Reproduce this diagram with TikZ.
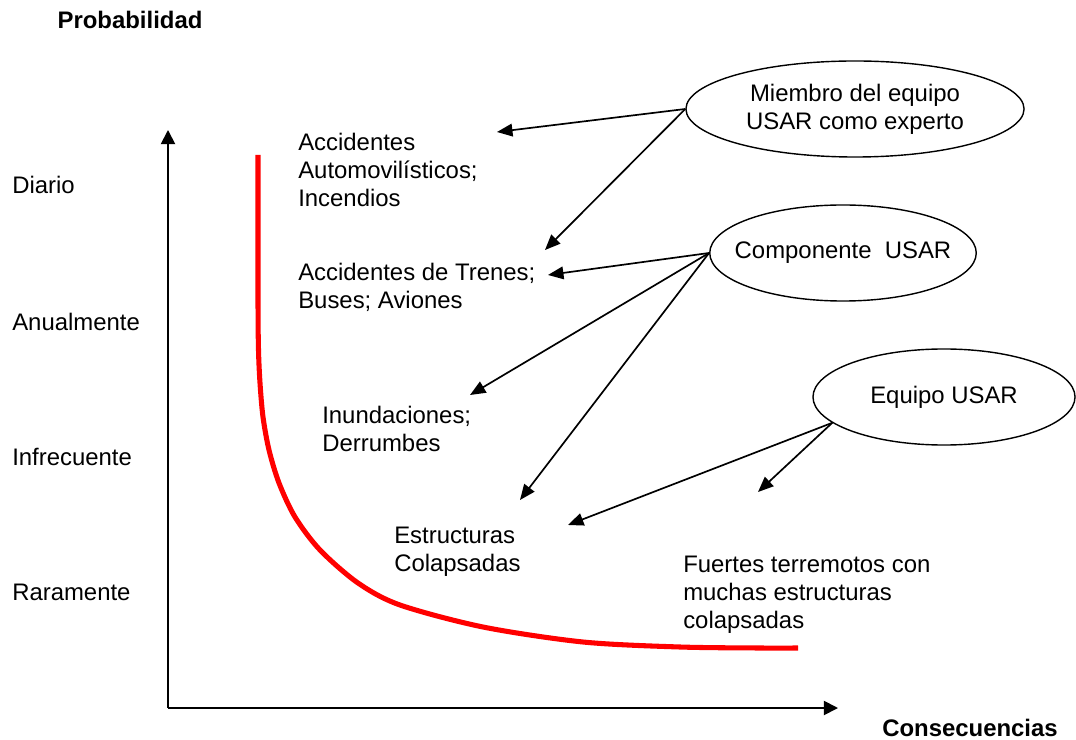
\documentclass[tikz,border=0pt]{standalone}
\usepackage{fontspec}
\setmainfont{Liberation Sans}
\usepackage{tikz}
\usetikzlibrary{arrows.meta,shapes.geometric}

\begin{document}
\begin{tikzpicture}[x=0.025cm,y=-0.025cm,
  every node/.style={font=\fontsize{17}{20}\selectfont, inner sep=0pt},
  txt/.style={anchor=west, align=left},
  titulo/.style={font=\fontsize{17}{20}\selectfont\bfseries},
  rol/.style={draw, ellipse, line width=1pt, align=center, minimum height=2.4cm},
  flecha/.style={-{Triangle[length=11pt,width=9pt]}, line width=1.2pt},
  eje/.style={-{Triangle[length=10pt,width=10pt]}, line width=1.3pt}]
\useasboundingbox (0,0) rectangle (1076,740);

% ejes
\coordinate (origen) at (168,708);
\coordinate (ytope) at (168,130);
\coordinate (xfin) at (838,708);
\draw[eje] (origen) -- (ytope);
\draw[eje] (origen) -- (xfin);
\node[titulo] (prob) at (130,20) {Probabilidad};
\node[titulo] (cons) at (970,728) {Consecuencias};

\node[txt] (diario) at (12,185) {Diario};
\node[txt] (anual) at (12,322) {Anualmente};
\node[txt] (infrec) at (12,457) {Infrecuente};
\node[txt] (raro) at (12,592) {Raramente};

% curva
\draw[red, line width=3.6pt] plot[smooth, tension=0.5] coordinates {
  (258,155) (258,300) (258.5,350) (260,383) (263,417) (269,450) (279,483)
  (295,517) (320,550) (358,583) (400,605) (483,627) (583,642) (680,647)
  (760,648) (798,648)};

% eventos
\node[txt] (auto) at (298,170) {Accidentes\\Automovilísticos;\\Incendios};
\node[txt] (trenes) at (298,287) {Accidentes de Trenes;\\Buses; Aviones};
\node[txt] (inund) at (322,429) {Inundaciones;\\Derrumbes};
\node[txt] (estruc) at (394,552) {Estructuras\\Colapsadas};
\node[txt] (terrem) at (683,595) {Fuertes terremotos con\\muchas estructuras\\colapsadas};

% elipses
\node[rol, minimum width=8.45cm] (miembro) at (855,109)
  {Miembro del equipo\\USAR como experto};
\node[rol, minimum width=6.6cm, inner xsep=-10pt] (comp) at (843,253)
  {Componente\ \ USAR};
\node[rol, minimum width=6.55cm] (equipo) at (944,397)
  {Equipo USAR};

\coordinate (pAuto) at (497,132);
\coordinate (pTren1) at (545,250);
\coordinate (pTren2) at (548,275);
\coordinate (pInund) at (470,395);
\coordinate (pEstr1) at (520,500);
\coordinate (pEstr2) at (568,525);
\coordinate (pTerr) at (758,492);

\draw[flecha] (miembro.west) -- (pAuto);
\draw[flecha] (miembro.west) -- (pTren1);
\draw[flecha] (comp.west) -- (pTren2);
\draw[flecha] (comp.west) -- (pInund);
\draw[flecha] (comp.west) -- (pEstr1);
\draw[flecha] (equipo.193) -- (pEstr2);
\draw[flecha] (equipo.193) -- (pTerr);
\end{tikzpicture}
\end{document}
